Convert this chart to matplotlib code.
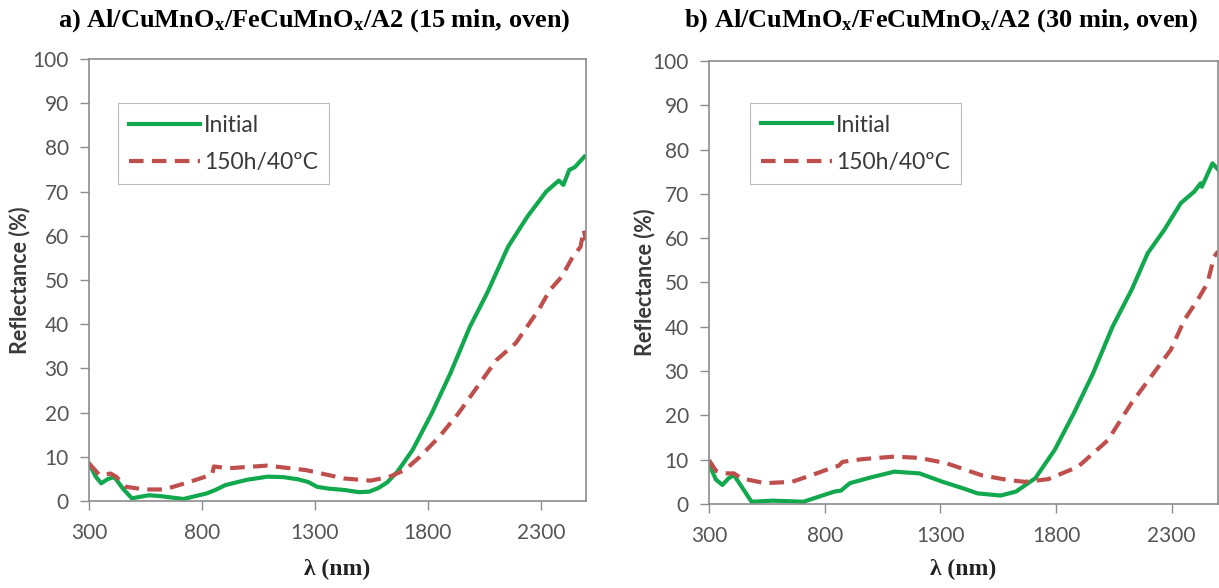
import matplotlib.pyplot as plt

plt.rcParams['font.family'] = ['Lato', 'DejaVu Sans']
plt.rcParams['mathtext.fontset'] = 'custom'
plt.rcParams['mathtext.bf'] = 'Liberation Serif:bold'
plt.rcParams['mathtext.rm'] = 'Liberation Serif:bold'
plt.rcParams['mathtext.default'] = 'bf'

# Panel a) 15 min oven
wl_a_initial = [300, 330, 354, 385, 413, 450, 490, 565, 616, 718, 820, 860, 904, 1000,
                1090, 1160, 1225, 1270, 1310, 1360, 1428, 1495, 1540, 1580, 1620, 1665,
                1732, 1817, 1900, 1986, 2062, 2155, 2240, 2324, 2380, 2400, 2426, 2450, 2493]
r_a_initial = [8.5, 5.5, 4.0, 5.0, 5.4, 2.8, 0.6, 1.3, 1.1, 0.45, 1.7, 2.5, 3.6, 4.8,
               5.5, 5.4, 4.9, 4.3, 3.2, 2.8, 2.5, 2.0, 2.1, 2.9, 4.2, 6.6,
               11.5, 19.8, 28.9, 39.4, 47.0, 57.5, 64.3, 70.0, 72.5, 71.5, 74.9, 75.5, 77.9]

wl_a_aged = [300, 346, 396, 420, 464, 548, 633, 751, 827, 845, 853, 920, 1000, 1090, 1259,
             1428, 1547, 1631, 1698, 1765, 1850, 1935, 2020, 2104, 2189, 2290, 2340, 2392,
             2442, 2476, 2490, 2500]
r_a_aged = [8.5, 5.9, 6.2, 5.5, 3.2, 2.6, 2.6, 4.4, 5.7, 6.0, 7.8, 7.4, 7.7, 8.0, 7.0,
            5.1, 4.6, 5.5, 7.0, 10.0, 14.5, 19.8, 25.9, 31.9, 35.7, 43.2, 47.7, 50.7,
            55.3, 57.5, 61.3, 59.0]

# Panel b) 30 min oven
wl_b_initial = [300, 330, 358, 385, 408, 440, 484, 575, 708, 842, 870, 909, 1000, 1101,
                1210, 1310, 1400, 1460, 1560, 1627, 1710, 1794, 1877, 1960, 2044, 2128,
                2196, 2268, 2339, 2397, 2425, 2430, 2476, 2500]
r_b_initial = [9.0, 5.5, 4.3, 5.8, 6.5, 4.0, 0.5, 0.75, 0.5, 2.8, 3.0, 4.7, 6.0, 7.3,
               6.9, 5.0, 3.5, 2.4, 1.9, 2.8, 5.8, 12.2, 20.5, 29.5, 40.0, 48.5,
               56.6, 61.9, 67.9, 70.5, 72.4, 71.6, 76.9, 75.5]

wl_b_aged = [300, 330, 358, 408, 440, 541, 659, 776, 842, 860, 877, 959, 1101, 1210, 1326,
             1477, 1593, 1666, 1766, 1895, 2024, 2125, 2210, 2296, 2354, 2411, 2454, 2483, 2500]
r_b_aged = [9.9, 7.5, 6.9, 6.9, 5.8, 4.7, 5.0, 7.1, 8.4, 8.6, 9.5, 10.1, 10.7, 10.4, 9.2,
            6.5, 5.4, 5.0, 5.6, 8.4, 14.4, 22.7, 28.7, 34.8, 41.5, 46.0, 49.8, 55.8, 57.0]

titles = ['a) Al/CuMnO$_x$/FeCuMnO$_x$/A2 (15 min, oven)',
          'b) Al/CuMnO$_x$/FeCuMnO$_x$/A2 (30 min, oven)']
labels = ['Initial', '150h/40ºC']
x_ticks = [300, 800, 1300, 1800, 2300]
y_ticks = list(range(0, 101, 10))

green = '#12A84E'
red = '#BF4F4C'
grey = '#8C8C8C'
txt = '#555555'

fig = plt.figure(figsize=(12.19, 5.88), dpi=100)
ax_a = fig.add_axes([0.0730, 0.148, 0.4077, 0.7517])
ax_b = fig.add_axes([0.5816, 0.1429, 0.4176, 0.7534])

# axes, data, legend anchor, ylabel x, xlabel y, title x
panels = [
    (ax_a, wl_a_initial, r_a_initial, wl_a_aged, r_a_aged, 0.058, 0.90, -0.118, -0.130, 0.258),
    (ax_b, wl_b_initial, r_b_initial, wl_b_aged, r_b_aged, 0.080, 0.905, -0.105, -0.123, 0.772),
]

for ax, wi, ri, wa, ra, lx, ly, ylx, xly, tx in panels:
    ax.plot(wi, ri, color=green, lw=3.0, label=labels[0])
    ax.plot(wa, ra, color=red, lw=3.0, ls=(0, (3.5, 2.0)), label=labels[1])
    ax.set_xlim(300, 2500)
    ax.set_ylim(0, 100)
    ax.set_xticks(x_ticks)
    ax.set_yticks(y_ticks)
    for s in ax.spines.values():
        s.set_color(grey)
        s.set_linewidth(1.2)
    ax.tick_params(axis='both', colors=grey, labelcolor=txt, labelsize=15,
                   length=6.5, width=1.0, direction='out')
    ax.tick_params(axis='x', pad=9)
    ax.tick_params(axis='y', pad=8)
    ax.set_ylabel('Reflectance (%)', fontsize=15.5, fontweight='bold', color='#3a3a3a')
    ax.yaxis.set_label_coords(ylx, 0.5)
    ax.set_xlabel('λ (nm)', fontsize=17, fontweight='bold', family='Liberation Serif',
                  color='#222222')
    ax.xaxis.set_label_coords(0.5, xly)
    leg = ax.legend(loc='upper left', bbox_to_anchor=(lx, ly), borderaxespad=0,
                    fontsize=16.5, handlelength=3.1, labelspacing=0.7, handletextpad=0.15,
                    borderpad=0.5, fancybox=False, framealpha=1)
    leg.get_frame().set_edgecolor('#bbbbbb')
    leg.get_frame().set_linewidth(0.8)
    for t in leg.get_texts():
        t.set_color('#3a3a3a')

for title, p in zip(titles, panels):
    fig.text(p[-1], 0.965, title, ha='center', va='center', fontsize=19,
             family='Liberation Serif', fontweight='bold', color='black')

fig.savefig('out.png', dpi=100)
